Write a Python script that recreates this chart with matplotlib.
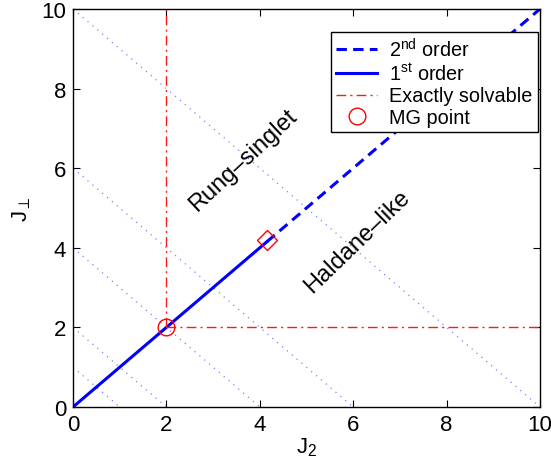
import matplotlib
matplotlib.use("Agg")
import matplotlib.pyplot as plt
import numpy as np

plt.rcParams['font.family'] = ['Liberation Sans', 'DejaVu Sans']
plt.rcParams['mathtext.fontset'] = 'custom'
plt.rcParams['mathtext.rm'] = 'Liberation Sans'
plt.rcParams['mathtext.it'] = 'Liberation Sans:italic'
plt.rcParams['lines.scale_dashes'] = False

# data
first_x = [0.0, 4.15]
first_y = [0.0, 4.15]
second_x = [4.15, 10.0]
second_y = [4.15, 10.0]
vert_x = [2.0, 2.0]
vert_y = [2.0, 10.0]
horiz_x = [2.0, 10.0]
horiz_y = [2.0, 2.0]
mg_x = [2.0]
mg_y = [2.0]
diamond_x = [4.15]
diamond_y = [4.2]
dotted_sums = [1, 2, 4, 6, 10]
ticks = [0, 2, 4, 6, 8, 10]

fig = plt.figure(figsize=(5.51, 4.64), dpi=100)
ax = fig.add_axes([0.1325, 0.1207, 0.8475, 0.8578])

for c in dotted_sums:
    ax.plot([0, c], [c, 0], linestyle=(0, (0.8, 3.8)), color=(0.35, 0.35, 1.0), lw=0.9, alpha=0.85)

red = (1.0, 0.1, 0.1)
ax.plot(second_x, second_y, color='blue', lw=2.2, linestyle=(0, (7.5, 4.5)), label=r'2$^{\rm nd}$ order')
ax.plot(first_x, first_y, '-', color='blue', lw=2.2, label=r'1$^{\rm st}$ order')
ax.plot(vert_x, vert_y, color=red, lw=1.0, linestyle=(0, (7, 3, 1.5, 3)), label='Exactly solvable')
ax.plot(horiz_x, horiz_y, color=red, lw=1.0, linestyle=(0, (7, 3, 1.5, 3)))
ax.plot(mg_x, mg_y, 'o', mfc='none', mec='red', ms=12, mew=1.0, label='MG point', linestyle='none')
ax.plot(diamond_x, diamond_y, 'D', mfc='none', mec='red', ms=10.5, mew=1.0, linestyle='none')

ax.text(3.64, 6.2, 'Rung–singlet', rotation=43, ha='center', va='center',
        rotation_mode='anchor', fontsize=17)
ax.text(6.08, 4.17, 'Haldane–like', rotation=44, ha='center', va='center',
        rotation_mode='anchor', fontsize=17)

ax.set_xlim(0, 10)
ax.set_ylim(0, 10)
ax.set_xticks(ticks)
ax.set_yticks(ticks)
ax.tick_params(direction='in', top=True, right=True, labelsize=16, length=5, width=0.8, pad=5)
for s in ax.spines.values():
    s.set_linewidth(1.0)
ax.set_xlabel(r'J$_2$', fontsize=16, labelpad=0)
ax.set_ylabel(r'J$_\perp$', fontsize=16, labelpad=6)

leg = ax.legend(loc='upper right', bbox_to_anchor=(0.995, 0.942), fontsize=14.3, frameon=True,
                fancybox=False, edgecolor='black', framealpha=1, handlelength=2.1,
                borderpad=0.25, labelspacing=0.12, handletextpad=0.6, borderaxespad=0)
leg.get_frame().set_linewidth(1.0)

fig.savefig('out.png', dpi=100)
